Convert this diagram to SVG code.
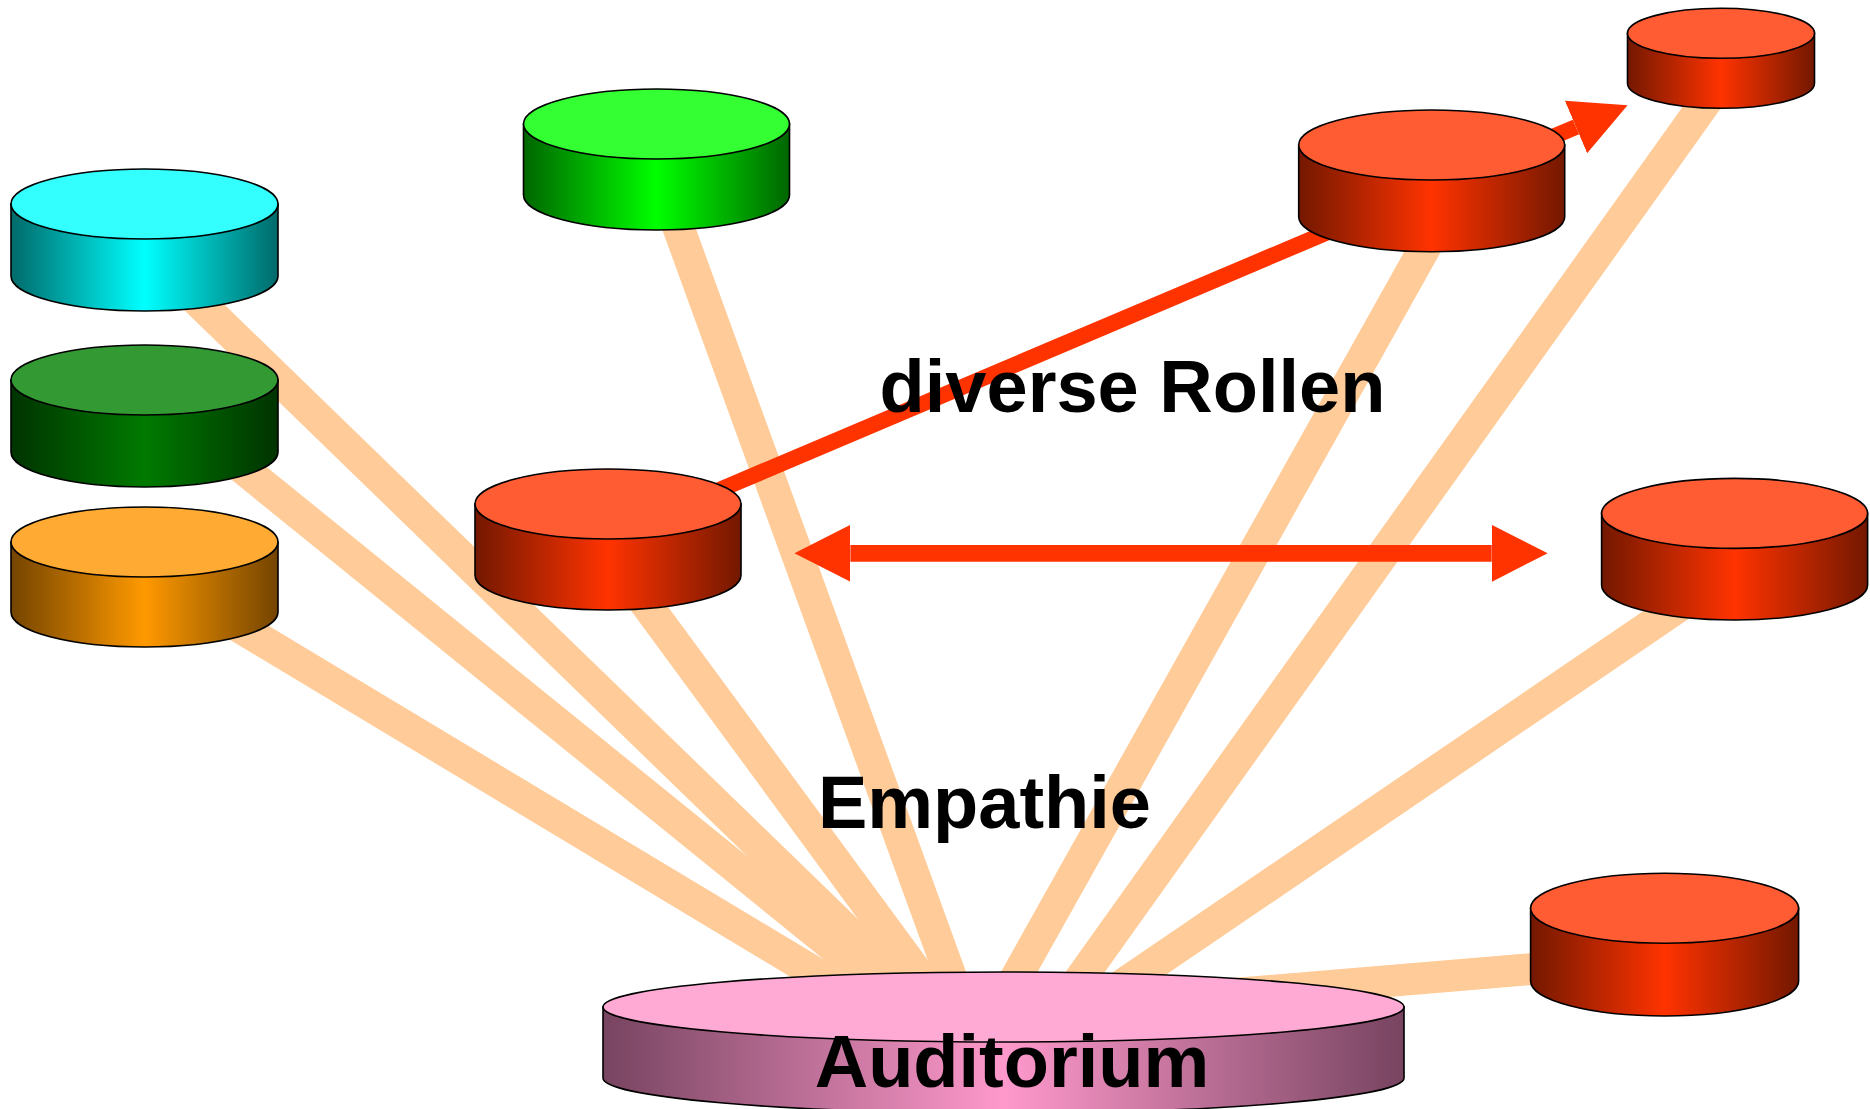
<svg xmlns="http://www.w3.org/2000/svg" width="1870" height="1109" viewBox="0 0 1870 1109">
<defs>
<linearGradient id="gCyan" x1="0" y1="0" x2="1" y2="0"><stop offset="0" stop-color="#006A6A"/><stop offset="0.5" stop-color="#00FFFF"/><stop offset="1" stop-color="#006A6A"/></linearGradient>
<linearGradient id="gDkGreen" x1="0" y1="0" x2="1" y2="0"><stop offset="0" stop-color="#003300"/><stop offset="0.5" stop-color="#007A00"/><stop offset="1" stop-color="#003300"/></linearGradient>
<linearGradient id="gOrange" x1="0" y1="0" x2="1" y2="0"><stop offset="0" stop-color="#744400"/><stop offset="0.5" stop-color="#FF9900"/><stop offset="1" stop-color="#744400"/></linearGradient>
<linearGradient id="gGreen" x1="0" y1="0" x2="1" y2="0"><stop offset="0" stop-color="#006600"/><stop offset="0.5" stop-color="#00FF00"/><stop offset="1" stop-color="#006600"/></linearGradient>
<linearGradient id="gRed" x1="0" y1="0" x2="1" y2="0"><stop offset="0" stop-color="#731800"/><stop offset="0.5" stop-color="#FF3300"/><stop offset="1" stop-color="#731800"/></linearGradient>
<linearGradient id="gPink" x1="0" y1="0" x2="1" y2="0"><stop offset="0" stop-color="#774460"/><stop offset="0.5" stop-color="#FF99CC"/><stop offset="1" stop-color="#774460"/></linearGradient>
<marker id="head" viewBox="0 0 56 57" refX="0" refY="28.5" markerWidth="56" markerHeight="57" markerUnits="userSpaceOnUse" orient="auto-start-reverse"><path d="M0,0 L56,28.5 L0,57 Z" fill="#FF3300"/></marker>
</defs>
<style>
.peach{stroke:#FFCC99;stroke-width:32;fill:none;stroke-linecap:butt}
.red{stroke:#FF3300;fill:none;stroke-linecap:butt}
.cyl{stroke:#000;stroke-width:1.6}
.lbl{font-family:"Liberation Sans",Arial,sans-serif;font-weight:bold;font-size:74px;fill:#000;text-anchor:middle}
</style>
<rect width="1870" height="1109" fill="#fff"/>
<g id="connectors">
<line class="peach" x1="172" y1="276" x2="939" y2="1020"/>
<line class="peach" x1="222.7" y1="452" x2="924" y2="1020"/>
<line class="peach" x1="214.6" y1="612" x2="893.4" y2="1020"/>
<line class="peach" x1="624" y1="574" x2="952" y2="1020"/>
<line class="peach" x1="667" y1="196" x2="966.5" y2="1020"/>
<line class="peach" x1="1442.6" y1="216" x2="992.4" y2="1020"/>
<line class="peach" x1="1718.5" y1="84" x2="1051" y2="1020"/>
<line class="peach" x1="1710" y1="585" x2="1071" y2="1020"/>
<line class="peach" x1="1664" y1="958" x2="1150" y2="1001"/>
<path class="red" stroke-width="16" d="M712,493 L1576,127" marker-end="url(#head)"/>
<path class="red" stroke-width="16.7" d="M850.4,553.3 H1491.7" marker-start="url(#head)" marker-end="url(#head)"/>
</g>
<g id="cyan">
<path class="cyl" fill="url(#gCyan)" d="M11,204 V276 A133.5,35 0 0 0 278,276 V204 Z"/>
<ellipse class="cyl" fill="#33FFFF" cx="144.5" cy="204" rx="133.5" ry="35"/>
</g>
<g id="darkgreen">
<path class="cyl" fill="url(#gDkGreen)" d="M11,380 V452 A133.5,35 0 0 0 278,452 V380 Z"/>
<ellipse class="cyl" fill="#339933" cx="144.5" cy="380" rx="133.5" ry="35"/>
</g>
<g id="orange">
<path class="cyl" fill="url(#gOrange)" d="M11,542 V612 A133.5,35 0 0 0 278,612 V542 Z"/>
<ellipse class="cyl" fill="#FFAA33" cx="144.5" cy="542" rx="133.5" ry="35"/>
</g>
<g id="green">
<path class="cyl" fill="url(#gGreen)" d="M523.5,124 V195 A133,35 0 0 0 789.5,195 V124 Z"/>
<ellipse class="cyl" fill="#33FF33" cx="656.5" cy="124" rx="133" ry="35"/>
</g>
<g id="red-mid">
<path class="cyl" fill="url(#gRed)" d="M475,504 V575 A133,35 0 0 0 741,575 V504 Z"/>
<ellipse class="cyl" fill="#FF5C33" cx="608" cy="504" rx="133" ry="35"/>
</g>
<g id="red-topright">
<path class="cyl" fill="url(#gRed)" d="M1298.7,145 V216.7 A133,35 0 0 0 1564.7,216.7 V145 Z"/>
<ellipse class="cyl" fill="#FF5C33" cx="1431.7" cy="145" rx="133" ry="35"/>
</g>
<g id="red-small">
<path class="cyl" fill="url(#gRed)" d="M1627.5,33.3 V83.3 A93.5,25 0 0 0 1814.5,83.3 V33.3 Z"/>
<ellipse class="cyl" fill="#FF5C33" cx="1721" cy="33.3" rx="93.5" ry="25"/>
</g>
<g id="red-right">
<path class="cyl" fill="url(#gRed)" d="M1601.6,513.4 V585 A133,35 0 0 0 1867.6,585 V513.4 Z"/>
<ellipse class="cyl" fill="#FF5C33" cx="1734.6" cy="513.4" rx="133" ry="35"/>
</g>
<g id="red-bottomright">
<path class="cyl" fill="url(#gRed)" d="M1530.6,908.3 V981 A134,35 0 0 0 1798.6,981 V908.3 Z"/>
<ellipse class="cyl" fill="#FF5C33" cx="1664.6" cy="908.3" rx="134" ry="35"/>
</g>
<g id="auditorium">
<path class="cyl" fill="url(#gPink)" d="M603,1007 V1078 A400.5,35 0 0 0 1404,1078 V1007 Z"/>
<ellipse class="cyl" fill="#FFAAD5" cx="1003.5" cy="1007" rx="400.5" ry="35"/>
<text class="lbl" x="1012" y="1087">Auditorium</text>
</g>
<g id="labels">
<text class="lbl" x="1132.5" y="411.7">diverse Rollen</text>
<text class="lbl" x="984.5" y="828.3">Empathie</text>
</g>
</svg>
